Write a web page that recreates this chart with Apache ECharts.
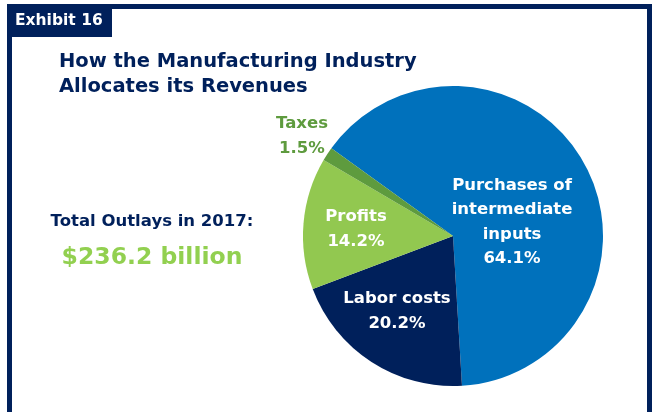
<!DOCTYPE html>
<html><head><meta charset="utf-8">
<script src="https://cdn.jsdelivr.net/npm/echarts@6/dist/echarts.min.js"></script>
<style>html,body{margin:0;padding:0;background:#fff}#c{width:652px;height:412px}</style>
</head><body><div id="c"></div>
<script>
const categories = ['Purchases of\nintermediate\ninputs', 'Labor costs', 'Profits', 'Taxes'];
const shares = [64.1, 20.2, 14.2, 1.5];
const sliceColors = ['#0071BC', '#00205B', '#92C850', '#5E9B3E'];
const labelColors = ['#ffffff', '#ffffff', '#ffffff', '#5E9B3E'];
const labelPos = [[512, 222], [397, 311], [356, 229], [302, 136]];
const titleText = 'How the Manufacturing Industry\nAllocates its Revenues';
const totalLabel = 'Total Outlays in 2017:';
const totalValue = '$236.2 billion';
const exhibit = 'Exhibit 16';

const FONT = 'DejaVu Sans';
const NAVY = '#00205B';
const chart = echarts.init(document.getElementById('c'), null, {renderer: 'canvas'});
chart.setOption({
  backgroundColor: '#fff',
  animation: false,
  graphic: [
    {type: 'rect', shape: {x: 7, y: 4, width: 5, height: 420}, style: {fill: NAVY}, z: 10},
    {type: 'rect', shape: {x: 7, y: 4, width: 645, height: 5}, style: {fill: NAVY}, z: 10},
    {type: 'rect', shape: {x: 647, y: 4, width: 5, height: 420}, style: {fill: NAVY}, z: 10},
    {type: 'rect', shape: {x: 7, y: 4, width: 105, height: 33}, style: {fill: NAVY}, z: 10},
    {type: 'text', x: 15, y: 21, z: 11, style: {text: exhibit, fill: '#fff', font: 'bold 15.5px "DejaVu Sans"', textVerticalAlign: 'middle'}},
    {type: 'text', x: 59, y: 74, z: 11, style: {text: titleText, fill: NAVY, font: 'bold 19.5px "DejaVu Sans"', lineHeight: 25, textVerticalAlign: 'middle'}},
    {type: 'text', x: 152, y: 222, z: 11, style: {text: totalLabel, fill: NAVY, font: 'bold 16.5px "DejaVu Sans"', textAlign: 'center', textVerticalAlign: 'middle'}},
    {type: 'text', x: 152, y: 258, z: 11, style: {text: totalValue, fill: '#92D050', font: 'bold 23.5px "DejaVu Sans"', textAlign: 'center', textVerticalAlign: 'middle'}}
  ],
  series: [{
    type: 'pie',
    center: [453, 236],
    radius: [0, 150],
    startAngle: 144.2,
    clockwise: true,
    silent: true,
    data: categories.map((c, i) => ({
      name: c, value: shares[i],
      itemStyle: {color: sliceColors[i]},
      label: {color: labelColors[i]}
    })),
    itemStyle: {borderWidth: 0},
    label: {
      show: true, position: 'inside',
      formatter: p => p.name + '\n' + p.value.toFixed(1) + '%',
      fontFamily: FONT, fontWeight: 'bold', fontSize: 16.5, lineHeight: 24.5, align: 'center'
    },
    labelLine: {show: false},
    labelLayout: p => ({x: labelPos[p.dataIndex][0], y: labelPos[p.dataIndex][1], align: 'center', verticalAlign: 'middle'})
  }]
});
</script></body></html>
